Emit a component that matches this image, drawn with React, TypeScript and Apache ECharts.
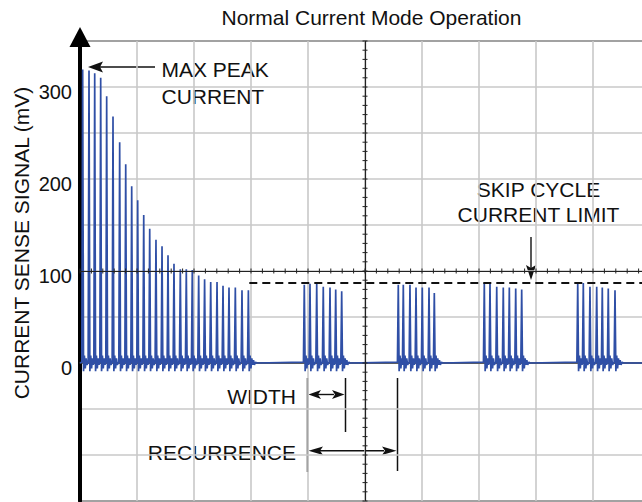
import React, { useEffect, useRef } from "react";
import * as echarts from "echarts";

const FONT = '"Liberation Sans", Arial, Helvetica, sans-serif';

const titleText = "Normal Current Mode Operation";
const yAxisTitle = "CURRENT SENSE SIGNAL (mV)";
const yTickLabels = [0, 100, 200, 300];

// time axis: 10 divisions, 10 units per division; values in mV
const burst1Times = [0.47, 1.58, 2.58, 3.63, 4.68, 5.79, 6.96, 8.02, 9.07, 10.12, 11.18, 12.23, 13.33, 14.39, 15.44, 16.49, 17.6, 18.65, 19.7, 20.82, 21.86, 22.93, 24.04, 25.09, 26.14, 27.25, 28.42, 29.54];
const burst1Peaks = [319, 318, 315, 310, 290, 268, 240, 216, 192, 177, 161, 146, 134, 127, 117, 108, 102, 102, 101, 95, 91, 88, 88, 84, 82, 82, 79, 79];
const burst2Times = [39.35, 40.35, 41.53, 42.68, 43.86, 44.86, 45.91];
const burst2Peaks = [85, 86, 86, 83, 82, 80, 78];
const burst3Times = [55.84, 56.72, 57.89, 58.95, 60.05, 61.23, 62.16];
const burst3Peaks = [85, 85, 85, 82, 82, 82, 76];
const burst4Times = [70.93, 71.93, 73.11, 74.26, 75.32, 76.44, 77.49];
const burst4Peaks = [87, 87, 83, 82, 82, 81, 80];
const burst5Times = [87.32, 88.3, 89.47, 90.65, 91.63, 92.68, 93.86];
const burst5Peaks = [87, 87, 83, 83, 82, 81, 79];

// ringing after each spike: [time offset, mV]
const ringShape = [[0.15, -9], [0.3, 8], [0.45, -6], [0.6, 5], [0.75, -2]];
const tailShape = [[0.9, 3], [1.05, -2], [1.25, 1], [1.45, 0]];

const skipCycleLimit = 87;
const skipLineStart = 29.7;
const centerTime = 50;
const centerValue = 100;

function buildTrace() {
  const bursts: [number[], number[]][] = [
    [burst1Times, burst1Peaks],
    [burst2Times, burst2Peaks],
    [burst3Times, burst3Peaks],
    [burst4Times, burst4Peaks],
    [burst5Times, burst5Peaks],
  ];
  const pts: number[][] = [[0, 0]];
  bursts.forEach(([times, peaks]) => {
    times.forEach((t0, i) => {
      pts.push([t0 - 0.15, 1]);
      pts.push([t0, peaks[i]]);
      ringShape.forEach(([dt, dv]) => pts.push([t0 + dt, dv]));
      if (i === times.length - 1) tailShape.forEach(([dt, dv]) => pts.push([t0 + dt, dv]));
    });
  });
  pts.push([100, 0]);
  return pts;
}

function buildCrossTicks() {
  const out: number[][] = [];
  for (let t = 0; t <= 100; t += 2) out.push([t, centerValue, 0]);
  for (let v = -150; v <= 350; v += 10) out.push([centerTime, v, 1]);
  return out;
}

const txt = (text: string, x: number, y: number, align: string, extra: any = {}) => ({
  type: "text",
  x,
  y,
  ...extra,
  style: {
    text,
    fill: "#111",
    fontSize: 21,
    fontFamily: FONT,
    align,
    textAlign: align,
    verticalAlign: "middle",
    textVerticalAlign: "middle",
  },
});

const seg = (x1: number, y1: number, x2: number, y2: number, w = 1.5) => ({
  type: "line",
  shape: { x1, y1, x2, y2 },
  style: { stroke: "#111", lineWidth: w },
});

const head = (pts: number[][]) => ({
  type: "polygon",
  shape: { points: pts },
  style: { fill: "#111" },
});

export default function App() {
  const ref = useRef<HTMLDivElement>(null);
  useEffect(() => {
    if (!ref.current) return;
    const chart = echarts.init(ref.current, null, { renderer: "svg" });
    const option: any = {
      animation: false,
      backgroundColor: "#fff",
      grid: {
        left: 80,
        top: 41,
        width: 570,
        height: 460,
        show: true,
        borderColor: "#333",
        borderWidth: 2,
        backgroundColor: "transparent",
        containLabel: false,
        outerBoundsMode: "none",
      },
      xAxis: {
        type: "value",
        min: 0,
        max: 100,
        interval: 10,
        axisLabel: { show: false },
        axisTick: { show: false },
        axisLine: { show: true, lineStyle: { color: "#333", width: 1.5 } },
        splitLine: { show: true, lineStyle: { color: "#c8c8c8", width: 1.6 } },
      },
      yAxis: {
        type: "value",
        min: -150,
        max: 350,
        interval: 50,
        axisTick: { show: false },
        axisLine: {
          show: true,
          lineStyle: { color: "#000", width: 4 },
          symbol: ["none", "triangle"],
          symbolSize: [21, 20],
          symbolOffset: [0, 4],
        },
        axisLabel: {
          margin: 8,
          color: "#111",
          fontSize: 20,
          fontFamily: FONT,
          verticalAlign: "top",
          lineHeight: 10,
          formatter: (v: number) => (yTickLabels.includes(v) ? String(v) : ""),
        },
        splitLine: { show: true, lineStyle: { color: "#c8c8c8", width: 1.6 } },
      },
      series: [
        {
          type: "line",
          data: buildTrace(),
          showSymbol: false,
          symbol: "none",
          lineStyle: { color: "#2f4fa6", width: 1.7 },
          z: 3,
          markLine: {
            silent: true,
            symbol: "none",
            label: { show: false },
            lineStyle: { color: "#222", width: 1.2, type: "solid" },
            data: [
              { yAxis: centerValue },
              { xAxis: centerTime },
              [
                { coord: [skipLineStart, skipCycleLimit], lineStyle: { type: [8, 5], width: 2, color: "#111" } },
                { coord: [100, skipCycleLimit] },
              ],
            ],
          },
        },
        {
          type: "custom",
          data: buildCrossTicks(),
          encode: { x: 0, y: 1 },
          z: 4,
          silent: true,
          renderItem: (params: any, api: any) => {
            const p = api.coord([api.value(0), api.value(1)]);
            const o = api.value(2);
            return {
              type: "line",
              shape:
                o === 0
                  ? { x1: p[0], y1: p[1] - 2.5, x2: p[0], y2: p[1] + 2.5 }
                  : { x1: p[0] - 2.5, y1: p[1], x2: p[0] + 2.5, y2: p[1] },
              style: { stroke: "#222", lineWidth: 1 },
            };
          },
        },
      ],
      graphic: [
        txt(titleText, 371.5, 17, "center"),
        txt(yAxisTitle, 21, 243, "center", { rotation: Math.PI / 2 }),
        txt("MAX PEAK", 161.5, 69, "left"),
        txt("CURRENT", 161.5, 96, "left"),
        seg(155, 67, 100, 67, 1.4),
        head([[88, 67], [103, 61.5], [100, 67], [103, 72.5]]),
        txt("SKIP CYCLE", 538.5, 189, "center"),
        txt("CURRENT LIMIT", 538.5, 214, "center"),
        seg(531, 237, 531, 268, 1.4),
        head([[531, 280], [526, 265], [531, 268], [536, 265]]),
        txt("WIDTH", 296, 396, "right"),
        txt("RECURRENCE", 296, 452, "right"),
        seg(307.5, 378, 307.5, 472),
        seg(345.5, 378, 345.5, 432),
        seg(397.5, 378, 397.5, 471),
        seg(318, 394.5, 334, 394.5, 1.4),
        head([[308.5, 394.5], [321, 390], [318, 394.5], [321, 399]]),
        head([[344.5, 394.5], [332, 390], [335, 394.5], [332, 399]]),
        seg(320, 450.7, 384, 450.7, 1.4),
        head([[308.5, 450.7], [323, 446.5], [320, 450.7], [323, 455]]),
        head([[396.5, 450.7], [382, 446.5], [385, 450.7], [382, 455]]),
      ],
    };
    chart.setOption(option);
    return () => chart.dispose();
  }, []);
  return (
    <div
      ref={ref}
      style={{ position: "fixed", left: 0, top: 0, width: 642, height: 502, background: "#fff" }}
    />
  );
}
